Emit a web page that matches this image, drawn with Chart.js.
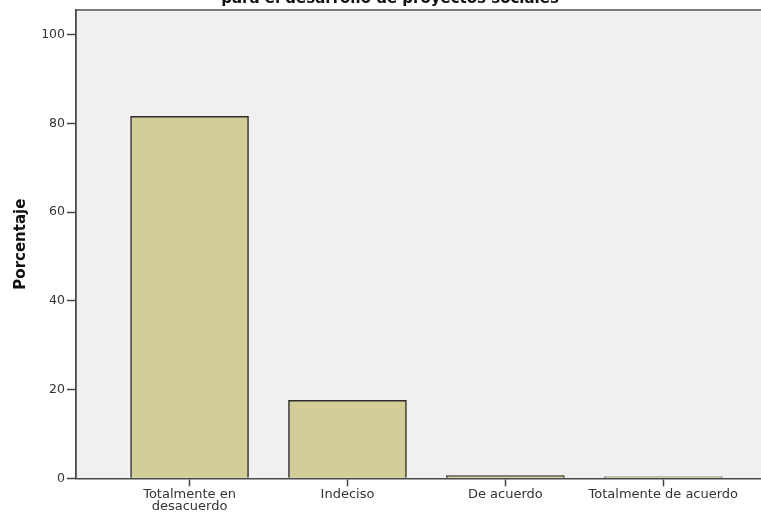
<!DOCTYPE html>
<html>
<head>
<meta charset="utf-8">
<script src="https://cdn.jsdelivr.net/npm/chart.js@4/dist/chart.umd.min.js"></script>
<style>
  html, body { margin: 0; padding: 0; background: #fff; overflow: hidden; width: 761px; height: 513px; }
  #wrap { position: absolute; left: 0; top: -10px; width: 780px; height: 523px; }
</style>
</head>
<body>
<div id="wrap"><canvas id="grafico"></canvas></div>
<script>
var categorias = [['Totalmente en', 'desacuerdo'], 'Indeciso', 'De acuerdo', 'Totalmente de acuerdo'];
var porcentajes = [81.6, 17.6, 0.6, 0.35];
var ticksY = [0, 20, 40, 60, 80, 100];
var titulo = 'para el desarrollo de proyectos sociales';

var fondoPlot = {
  id: 'fondoPlot',
  beforeDraw: function (chart) {
    var a = chart.chartArea, ctx = chart.ctx;
    ctx.save();
    ctx.fillStyle = '#f0f0f0';
    ctx.fillRect(a.left, a.top, a.right - a.left, a.bottom - a.top);
    ctx.strokeStyle = '#7a7a7a';
    ctx.lineWidth = 2;
    ctx.beginPath();
    ctx.moveTo(a.left, a.top);
    ctx.lineTo(a.right, a.top);
    ctx.stroke();
    ctx.restore();
  }
};

var ctx = document.getElementById('grafico').getContext('2d');
var grafico = new Chart(ctx, {
  type: 'bar',
  data: {
    datasets: [{
      label: 'Porcentaje',
      data: porcentajes.map(function (v, i) { return { x: i, y: v }; }),
      backgroundColor: '#d3ce98',
      borderColor: '#2f2f2a',
      borderWidth: 1.5,
      barThickness: 118
    }]
  },
  plugins: [fondoPlot],
  options: {
    responsive: true,
    maintainAspectRatio: false,
    animation: false,
    layout: { padding: 0 },
    plugins: {
      legend: { display: false },
      tooltip: { enabled: false },
      title: {
        display: true,
        text: titulo,
        color: '#111',
        font: { family: 'DejaVu Sans', size: 15, weight: 'bold' },
        padding: { top: 0, bottom: 2 }
      }
    },
    scales: {
      x: {
        type: 'linear',
        offset: false,
        min: -0.719,
        max: 3.739,
        afterBuildTicks: function (s) {
          s.ticks = categorias.map(function (c, i) { return { value: i }; });
        },
        afterFit: function (s) { s.height = 34.7; },
        grid: { display: true, offset: false, drawOnChartArea: false, drawTicks: true, tickLength: 8, color: '#444', tickWidth: 1.5 },
        border: { display: true, color: '#4a4a4a', width: 1.5 },
        ticks: {
          autoSkip: false,
          maxRotation: 0,
          padding: 2,
          color: '#333',
          font: { family: 'DejaVu Sans', size: 13, lineHeight: 0.95 },
          callback: function (v) { return categorias[v]; }
        }
      },
      y: {
        min: 0,
        max: 105.6,
        afterBuildTicks: function (s) {
          s.ticks = ticksY.map(function (v) { return { value: v }; });
        },
        afterFit: function (s) { s.width = 76; },
        grid: { display: true, drawOnChartArea: false, drawTicks: true, tickLength: 9, color: '#444', tickWidth: 1.5 },
        border: { display: true, color: '#4a4a4a', width: 1.8 },
        ticks: {
          padding: 2,
          color: '#333',
          font: { family: 'DejaVu Sans', size: 12.5 }
        },
        title: {
          display: true,
          text: 'Porcentaje',
          color: '#111',
          font: { family: 'DejaVu Sans', size: 15, weight: 'bold' },
          padding: { top: 12, bottom: 0 }
        }
      }
    }
  }
});
</script>
</body>
</html>
